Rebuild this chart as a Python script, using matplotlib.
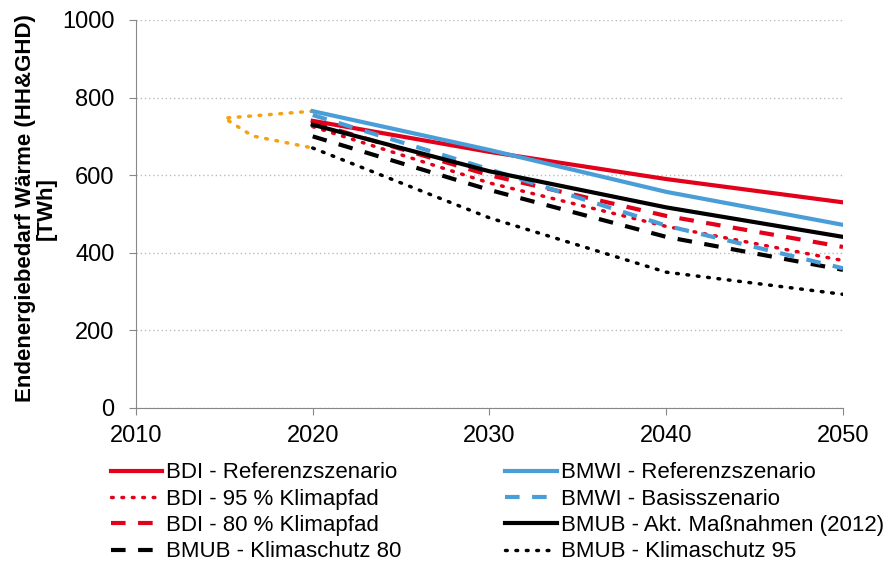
import matplotlib.pyplot as plt
import numpy as np

plt.rcParams['font.family'] = ['Liberation Sans', 'DejaVu Sans']

years = [2020, 2030, 2040, 2050]

bdi_ref = [740, 660, 590, 530]
bdi_95 = [725, 580, 468, 380]
bdi_80 = [735, 600, 495, 415]
bmwi_ref = [765, 665, 557, 472]
bmwi_basis = [755, 615, 470, 360]
bmub_akt = [730, 610, 517, 441]
bmub_ks80 = [700, 562, 441, 356]
bmub_ks95 = [670, 490, 350, 293]

# orange dotted range outline (no legend entry)
range_x = [2020, 2015, 2016.6, 2020]
range_y = [765, 747, 701, 670]

red = '#E2001A'
blue = '#4A9ED8'
orange = '#F7A10F'

fig = plt.figure(figsize=(8.91, 5.64), dpi=100)
ax = fig.add_axes([0.1526, 0.2766, 0.7935, 0.688])

ax.plot(range_x, range_y, color=orange, lw=2.5, linestyle=(0, (0.5, 2.5)),
        dash_capstyle='round')

l1, = ax.plot(years, bdi_ref, color=red, lw=3, label='BDI - Referenzszenario')
l3, = ax.plot(years, bdi_95, color=red, lw=2.5, linestyle=(0, (0.5, 2.5)),
              dash_capstyle='round', label='BDI - 95 % Klimapfad')
l5, = ax.plot(years, bdi_80, color=red, lw=3, linestyle=(0, (3.5, 3)),
              label='BDI - 80 % Klimapfad')
l7, = ax.plot(years, bmub_ks80, color='black', lw=3, linestyle=(0, (3.5, 3)),
              label='BMUB - Klimaschutz 80')
l8, = ax.plot(years, bmub_ks95, color='black', lw=2.5, linestyle=(0, (0.5, 2.5)),
              dash_capstyle='round', label='BMUB - Klimaschutz 95')
l4, = ax.plot(years, bmwi_basis, color=blue, lw=3, linestyle=(0, (3.5, 3)),
              label='BMWI - Basisszenario')
l2, = ax.plot(years, bmwi_ref, color=blue, lw=3, label='BMWI - Referenzszenario')
l6, = ax.plot(years, bmub_akt, color='black', lw=3,
              label='BMUB - Akt. Maßnahmen (2012)')

ax.set_xlim(2010, 2050)
ax.set_ylim(0, 1000)
ax.set_xticks(np.arange(2010, 2051, 10))
ax.set_yticks(np.arange(0, 1001, 200))
ax.tick_params(labelsize=17, color='#888888', length=5)
ax.tick_params(axis='x', pad=7)
ax.tick_params(axis='y', pad=10.5)
ax.yaxis.grid(True, color='#BBBBBB', linestyle=(0, (1, 2)), lw=1)
ax.set_axisbelow(True)
for s in ['top', 'right']:
    ax.spines[s].set_visible(False)
for s in ['left', 'bottom']:
    ax.spines[s].set_color('#888888')

ax.set_ylabel('Endenergiebedarf Wärme (HH&GHD)\n[TWh]', fontsize=16,
              fontweight='bold', linespacing=1.0)
ax.yaxis.set_label_coords(-0.112, 0.515)

handles = [l1, l3, l5, l7, l2, l4, l6, l8]
fig.legend(handles=handles, labels=[h.get_label() for h in handles],
           ncol=2, loc='upper left', bbox_to_anchor=(0.112, 0.2),
           frameon=False, fontsize=16, handlelength=2.3, handletextpad=0.18,
           columnspacing=4.68, labelspacing=0.24, borderpad=0)

fig.savefig('out.png', dpi=100)
